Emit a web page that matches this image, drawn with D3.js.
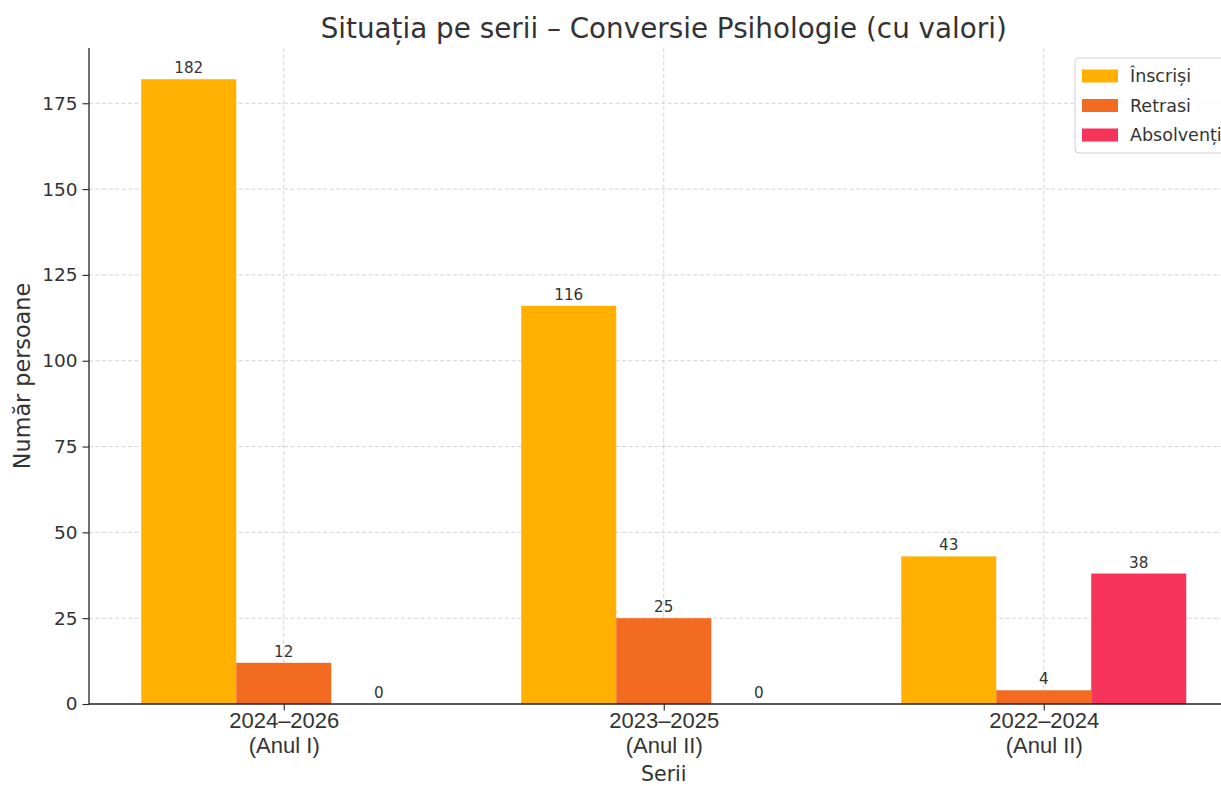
<!DOCTYPE html>
<html>
<head>
<meta charset="utf-8">
<script src="https://cdn.jsdelivr.net/npm/d3@7"></script>
<style>
  body { margin: 0; background: #fff; }
  svg { display: block; font-family: "DejaVu Sans", sans-serif; }
</style>
</head>
<body>
<svg width="1221" height="786"></svg>
<script>
'use strict';

// data
var categories = ['2024–2026\n(Anul I)', '2023–2025\n(Anul II)', '2022–2024\n(Anul II)'];
var seriesNames = ['Înscriși', 'Retrasi', 'Absolvenți'];
var inscrisi = [182, 116, 43];
var retrasi = [12, 25, 4];
var absolventi = [0, 0, 38];
var yTicks = [0, 25, 50, 75, 100, 125, 150, 175];

var colors = ['#FFB000', '#F26B21', '#F63358'];
var values = [inscrisi, retrasi, absolventi];

var M = { left: 89, top: 48, bottom: 704 };
var svg = d3.select('svg');

// matplotlib-like numeric x: group i at i, bars at offsets -0.25, 0, +0.25, width 0.25
var x = d3.scaleLinear().domain([-0.5125, 2.5125]).range([M.left, M.left + 380 * 3.025]);
var y = d3.scaleLinear().domain([0, 191.1]).range([M.bottom, M.top]);

var plotRight = x(2.5125);

// grid
var grid = svg.append('g').attr('id', 'grid');
grid.selectAll('line.h')
    .data(yTicks.slice(1))
    .enter()
    .append('line')
    .attr('class', 'h')
    .attr('x1', M.left).attr('x2', plotRight)
    .attr('y1', function(d) { return y(d); })
    .attr('y2', function(d) { return y(d); });
grid.selectAll('line.v')
    .data(categories)
    .enter()
    .append('line')
    .attr('class', 'v')
    .attr('y1', M.top).attr('y2', M.bottom)
    .attr('x1', function(d, i) { return x(i); })
    .attr('x2', function(d, i) { return x(i); });
grid.selectAll('line')
    .attr('stroke', '#cfcfcf')
    .attr('stroke-width', 0.9)
    .attr('stroke-dasharray', '4,2.5');

// bars
var barW = 0.25;
var bars = svg.append('g').attr('id', 'bars');
values.forEach(function(arr, s) {
    var off = (s - 1) * barW;
    bars.selectAll('rect.s' + s)
        .data(arr)
        .enter()
        .append('rect')
        .attr('class', 's' + s)
        .attr('x', function(d, i) { return x(i + off - barW / 2); })
        .attr('width', x(barW) - x(0))
        .attr('y', function(d) { return y(d); })
        .attr('height', function(d) { return y(0) - y(d); })
        .attr('fill', colors[s]);

    // value labels
    bars.selectAll('text.s' + s)
        .data(arr)
        .enter()
        .append('text')
        .attr('class', 's' + s)
        .attr('x', function(d, i) { return x(i + off); })
        .attr('y', function(d) { return y(d) - 6; })
        .attr('text-anchor', 'middle')
        .attr('font-size', 15.2)
        .attr('fill', '#333')
        .text(function(d) { return d; });
});

// y axis
var axisY = d3.axisLeft(y).tickValues(yTicks).tickSize(6.5).tickPadding(5);
var gy = svg.append('g')
    .attr('transform', 'translate(' + M.left + ',0)')
    .call(axisY);
gy.select('.domain').attr('stroke', '#222').attr('stroke-width', 1.3).attr('d', 'M0,' + M.top + 'V' + M.bottom);
gy.selectAll('.tick line').attr('stroke', '#222').attr('stroke-width', 1.1);
gy.selectAll('.tick text').attr('font-size', 18.5).attr('fill', '#333').attr('font-family', '"DejaVu Sans", sans-serif');

// x axis
var axisX = d3.axisBottom(x).tickValues([0, 1, 2]).tickSize(6.5).tickFormat(function() { return ''; });
var gx = svg.append('g')
    .attr('transform', 'translate(0,' + M.bottom + ')')
    .call(axisX);
gx.select('.domain').attr('stroke', '#222').attr('stroke-width', 1.3).attr('d', 'M' + M.left + ',0H' + plotRight);
gx.selectAll('.tick line').attr('stroke', '#222').attr('stroke-width', 1.1);
gx.selectAll('.tick').each(function(d, i) {
    var lines = categories[i].split('\n');
    var t = d3.select(this).append('text')
        .attr('text-anchor', 'middle')
        .attr('font-size', 22)
        .attr('fill', '#333');
    lines.forEach(function(l, k) {
        t.append('tspan').attr('x', 0).attr('y', 24 + k * 25).text(l);
    });
});

// titles
svg.append('text')
    .attr('x', x(1)).attr('y', 38)
    .attr('text-anchor', 'middle')
    .attr('font-size', 27.8)
    .attr('fill', '#333')
    .text('Situația pe serii – Conversie Psihologie (cu valori)');

svg.append('text')
    .attr('x', x(1)).attr('y', 781)
    .attr('text-anchor', 'middle')
    .attr('font-size', 20.5)
    .attr('fill', '#333')
    .text('Serii');

svg.append('text')
    .attr('transform', 'translate(30,' + ((M.top + M.bottom) / 2) + ') rotate(-90)')
    .attr('text-anchor', 'middle')
    .attr('font-size', 22.3)
    .attr('fill', '#333')
    .text('Număr persoane');

// legend
var lg = svg.append('g').attr('transform', 'translate(1075,58)');
lg.append('rect')
    .attr('width', 170).attr('height', 95)
    .attr('rx', 4)
    .attr('fill', '#fff').attr('fill-opacity', 0.85)
    .attr('stroke', '#d0d0d0');
seriesNames.forEach(function(n, i) {
    var row = lg.append('g').attr('transform', 'translate(0,' + (18 + i * 29.5) + ')');
    row.append('rect')
        .attr('x', 7).attr('y', -6.5)
        .attr('width', 36).attr('height', 13)
        .attr('fill', colors[i]);
    row.append('text')
        .attr('x', 55).attr('y', 6)
        .attr('font-size', 17.5)
        .attr('fill', '#333')
        .text(n);
});
</script>
</body>
</html>
